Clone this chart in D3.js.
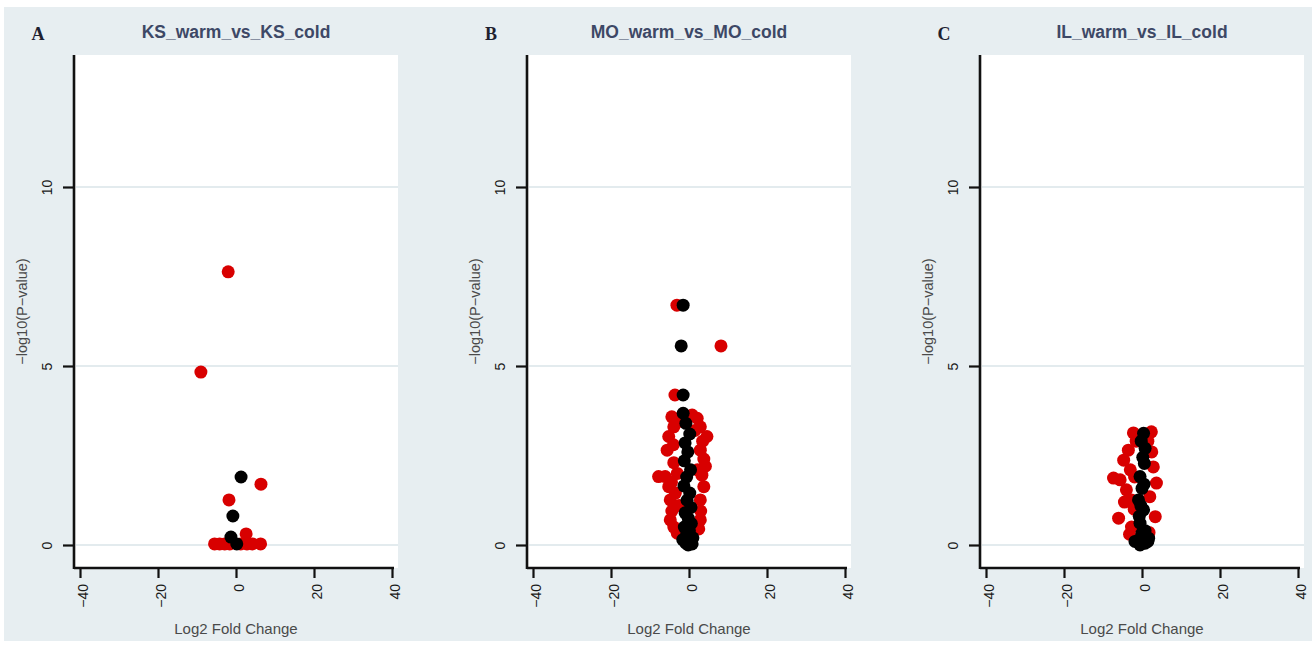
<!DOCTYPE html>
<html>
<head>
<meta charset="utf-8">
<script src="https://cdn.jsdelivr.net/npm/d3@7"></script>
<style>
  body { margin: 0; background: #fff; }
  svg { display: block; }
</style>
</head>
<body>
<svg width="1314" height="647"></svg>
<script>
// panel titles and letters
var titles = ["KS_warm_vs_KS_cold", "MO_warm_vs_MO_cold", "IL_warm_vs_IL_cold"];
var letters = ["A", "B", "C"];
var xTicks = [-40, -20, 0, 20, 40];
var yTicks = [0, 5, 10];

// [log2 fold change, -log10(p)]; red = significant, black = not
var ksRed = [[-2.0, 7.63], [-9.0, 4.83], [6.4, 1.7], [-1.8, 1.26], [2.6, 0.31],
  [-5.5, 0.03], [-4.2, 0.03], [-2.9, 0.03], [-1.6, 0.03], [1.2, 0.03], [2.8, 0.03], [4.2, 0.03], [6.3, 0.03]];
var ksBlack = [[1.3, 1.9], [-0.8, 0.81], [-1.3, 0.22], [0.2, 0.03]];

var moRed = [[-3.1, 6.7], [8.2, 5.56], [-3.6, 4.19],
  [-4.4, 3.58], [0.8, 3.63], [2.1, 3.54], [-3.9, 3.3], [2.9, 3.3], [-5.2, 3.03], [4.6, 3.03],
  [-5.6, 2.65], [2.9, 2.65], [-3.9, 2.3], [3.8, 2.4], [-7.8, 1.91], [-6.1, 1.91], [3.3, 1.95],
  [-5.2, 1.63], [3.8, 1.63], [-4.8, 1.26], [2.9, 1.26], [-4.4, 0.95], [3.0, 0.95], [-4.8, 0.7],
  [2.9, 0.7], [-3.9, 0.5], [2.5, 0.45], [-3.0, 0.33], [0.3, 0.33], [-3.0, 2.0], [2.2, 2.1],
  [-4.0, 2.8], [3.5, 2.9], [-3.5, 1.45], [-2.6, 3.45], [1.5, 3.2], [4.2, 2.2], [-2.5, 1.1],
  [2.0, 0.55], [-4.5, 1.75]];
var moBlack = [[-1.5, 6.7], [-2.0, 5.56], [-1.5, 4.19], [-1.5, 3.68], [-0.8, 3.4], [0.2, 3.1],
  [-1.0, 2.85], [-0.3, 2.6], [-1.2, 2.35], [0.4, 2.1], [-0.6, 1.9], [-1.3, 1.65], [0.2, 1.45],
  [-0.5, 1.25], [0.5, 1.05], [-1.0, 0.9], [-0.2, 0.75], [0.6, 0.6], [-1.2, 0.5], [0.1, 0.4],
  [-0.6, 0.3], [1.0, 0.2], [-1.6, 0.15], [0.3, 0.1], [-0.8, 0.05], [0.8, 0.03], [-0.2, 0.0]];

var ilRed = [[-2.2, 3.13], [2.4, 3.16], [-3.5, 2.65], [-4.7, 2.37], [-7.3, 1.87], [-5.6, 1.82],
  [-4.0, 1.54], [-6.0, 0.75], [3.7, 1.73], [2.9, 2.18], [-2.7, 1.26], [3.4, 0.79], [-2.7, 0.5],
  [-1.9, 1.9], [-3.0, 2.1], [2.5, 2.6], [-2.0, 1.0], [2.0, 1.35], [-3.2, 0.3], [1.8, 0.35],
  [-1.5, 2.9], [-4.5, 1.2], [1.5, 2.9]];
var ilBlack = [[0.4, 3.12], [0.8, 2.7], [0.6, 2.28], [-0.5, 1.91], [0, 1.58], [-0.9, 1.26],
  [0.4, 0.98], [-0.5, 0.61], [0, 0.33], [-0.9, 0.14], [0.8, 0.05], [-0.5, 0.0], [1.7, 0.19],
  [0.8, 0.4], [-0.2, 2.9], [0.2, 2.45], [-0.3, 1.1], [0.5, 1.7], [-0.7, 0.8], [0.3, 0.2],
  [-1.8, 0.1], [1.5, 0.1]];

var reds = [ksRed, moRed, ilRed];
var blacks = [ksBlack, moBlack, ilBlack];

var svg = d3.select("svg");
var font = "Liberation Sans, Arial, sans-serif";

// figure background
svg.append("rect")
    .attr("x", 4).attr("y", 7)
    .attr("width", 1308).attr("height", 634)
    .attr("fill", "#e7eef1");

var offsets = [0, 453, 906];

titles.forEach(function (title, i) {
    var off = offsets[i];
    var g = svg.append("g").attr("transform", "translate(" + off + ",0)");

    var x = d3.scaleLinear().domain([-40, 40]).range([80, 392]);
    var y = d3.scaleLinear().domain([0, 10]).range([545, 187]);

    var top = 55, bottom = 568, left = 74, right = 398;

    g.append("rect")
        .attr("x", left).attr("y", top)
        .attr("width", right - left).attr("height", bottom - top)
        .attr("fill", "#fff");

    // grid lines
    g.selectAll(".grid")
        .data(yTicks)
        .enter()
        .append("line")
        .attr("x1", left + 2).attr("x2", right)
        .attr("y1", function (d) { return y(d); })
        .attr("y2", function (d) { return y(d); })
        .attr("stroke", "#e3ebee")
        .attr("stroke-width", 2);

    // points
    g.selectAll(".red")
        .data(reds[i])
        .enter()
        .append("circle")
        .attr("cx", function (d) { return x(d[0]); })
        .attr("cy", function (d) { return y(d[1]); })
        .attr("r", 6.5)
        .attr("fill", "#d80000");

    g.selectAll(".black")
        .data(blacks[i])
        .enter()
        .append("circle")
        .attr("cx", function (d) { return x(d[0]); })
        .attr("cy", function (d) { return y(d[1]); })
        .attr("r", 6.5)
        .attr("fill", "#000");

    // y axis
    var yAxis = g.append("g")
        .attr("transform", "translate(" + left + ",0)")
        .call(d3.axisLeft(y).tickValues(yTicks).tickSize(11).tickFormat(d3.format("d")));
    yAxis.select(".domain").remove();
    yAxis.selectAll("line").attr("stroke", "#111").attr("stroke-width", 2.2);
    yAxis.selectAll("text")
        .attr("x", null).attr("dy", null)
        .attr("transform", "translate(-22,0) rotate(-90)")
        .attr("text-anchor", "middle")
        .attr("font-family", font)
        .attr("font-size", 14)
        .attr("fill", "#1a1a1a");

    // x axis
    var xAxis = g.append("g")
        .attr("transform", "translate(0," + bottom + ")")
        .call(d3.axisBottom(x).tickValues(xTicks).tickSize(10).tickFormat(function (d) { return d < 0 ? "\u2212" + Math.abs(d) : d; }));
    xAxis.select(".domain").remove();
    xAxis.selectAll("line").attr("stroke", "#111").attr("stroke-width", 2.2);
    xAxis.selectAll("text")
        .attr("y", null).attr("dy", null)
        .attr("transform", "translate(7,16) rotate(-90)")
        .attr("text-anchor", "end")
        .attr("font-family", font)
        .attr("font-size", 14)
        .attr("fill", "#1a1a1a");

    // axis lines
    g.append("line")
        .attr("x1", left).attr("x2", left)
        .attr("y1", top).attr("y2", bottom + 1)
        .attr("stroke", "#111").attr("stroke-width", 2.6);
    g.append("line")
        .attr("x1", left).attr("x2", right - 4)
        .attr("y1", bottom).attr("y2", bottom)
        .attr("stroke", "#111").attr("stroke-width", 2.6);

    // titles
    g.append("text")
        .attr("x", x(0)).attr("y", 38)
        .attr("text-anchor", "middle")
        .attr("font-family", font)
        .attr("font-weight", "bold")
        .attr("font-size", 17.5)
        .attr("fill", "#3d4866")
        .text(title);

    g.append("text")
        .attr("x", 38).attr("y", 40)
        .attr("text-anchor", "middle")
        .attr("font-family", "Liberation Serif, Times New Roman, serif")
        .attr("font-weight", "bold")
        .attr("font-size", 18)
        .attr("fill", "#1e2130")
        .text(letters[i]);

    g.append("text")
        .attr("x", x(0)).attr("y", 634)
        .attr("text-anchor", "middle")
        .attr("font-family", font)
        .attr("font-size", 15)
        .attr("fill", "#4a4a4a")
        .text("Log2 Fold Change");

    g.append("text")
        .attr("transform", "translate(27," + ((top + bottom) / 2) + ") rotate(-90)")
        .attr("text-anchor", "middle")
        .attr("font-family", font)
        .attr("font-size", 14.5)
        .attr("fill", "#4a4a4a")
        .text("\u2212log10(P\u2212value)");
});
</script>
</body>
</html>
